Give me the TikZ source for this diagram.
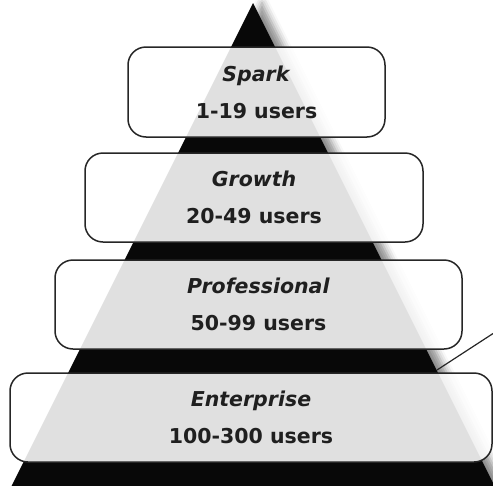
\documentclass[tikz,border=0pt]{standalone}
\usepackage{fontspec}
\setmainfont{DejaVu Sans}
\usetikzlibrary{shadows.blur}

\begin{document}
\begin{tikzpicture}[x=1pt,y=-1pt,
    tier/.style={draw=black!85, line width=1.5pt, rounded corners=18pt,
        fill=white, fill opacity=0.88, text opacity=1, text=black!88,
        align=center, inner sep=0pt,
        font=\fontsize{20.5}{37}\selectfont\bfseries},
    pyramid/.style={fill=black!97, draw=none,
        blur shadow={shadow xshift=9pt, shadow yshift=0pt,
            shadow opacity=45, shadow blur radius=7pt}},
    lead/.style={draw=black!85, line width=1.2pt}]
    % Fix the size of the picture
    \useasboundingbox (0,0) rectangle (493,485);
    \clip (0,0) rectangle (493,485);

    % Corners of the pyramid
    \coordinate (apex) at (253,3);
    \coordinate (baseL) at (4.5,500);
    \coordinate (baseR) at (501.5,500);

    % Draw the pyramid
    \path[pyramid] (apex) -- (baseR) -- (baseL) -- cycle;

    % Draw the lead line leaving the picture
    \coordinate (leadA) at (437,370);
    \coordinate (leadB) at (500,329);
    \draw[lead] (leadA) -- (leadB);

    % Draw the tiers
    \node[tier, minimum width=257pt, minimum height=90pt] (spark) at (256.5,92)
        {\textit{Spark}\\1-19 users};
    \node[tier, minimum width=338pt, minimum height=89pt] (growth) at (254,197.5)
        {\textit{Growth}\\20-49 users};
    \node[tier, minimum width=407pt, minimum height=89pt] (professional) at (258.5,304.5)
        {\textit{Professional}\\50-99 users};
    \node[tier, minimum width=482pt, minimum height=89pt] (enterprise) at (251,417.5)
        {\textit{Enterprise}\\100-300 users};
\end{tikzpicture}
\end{document}
